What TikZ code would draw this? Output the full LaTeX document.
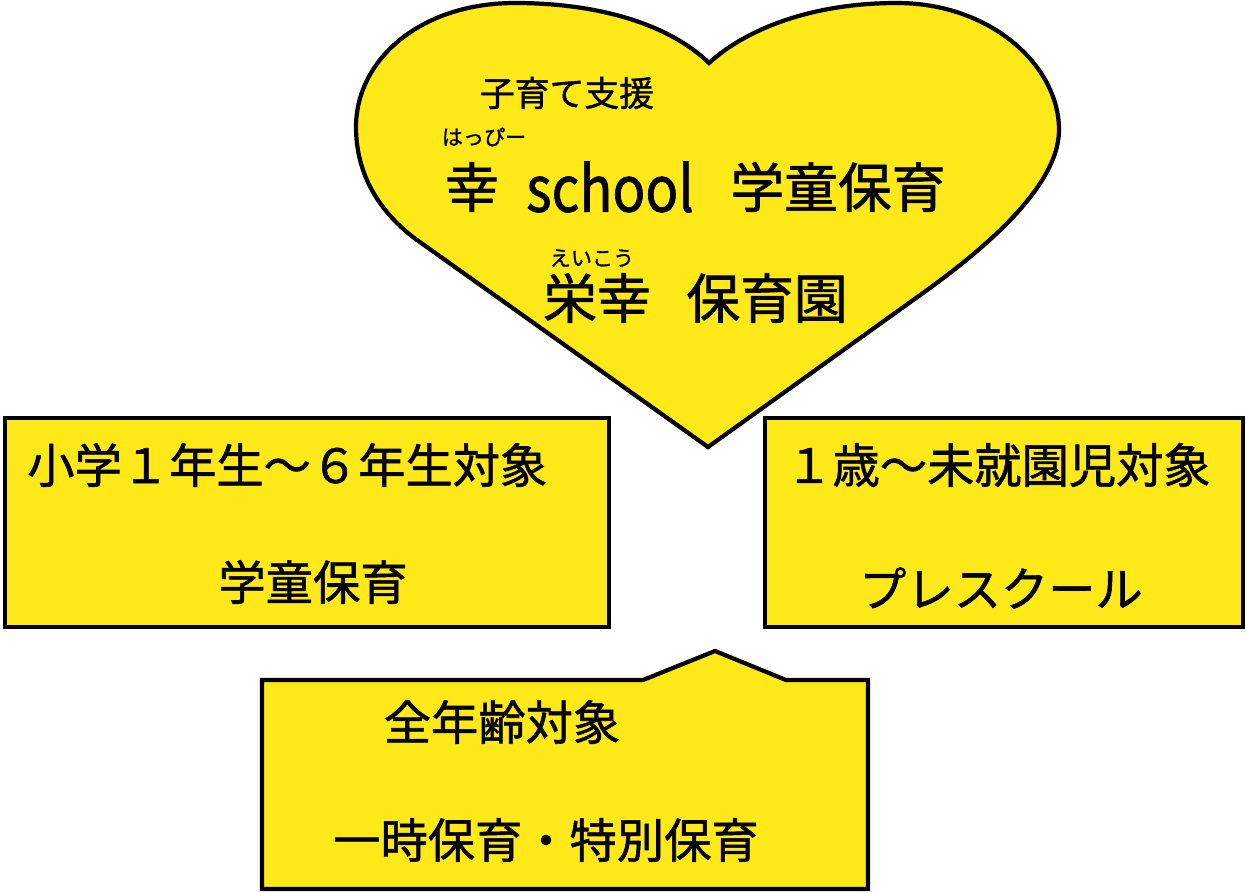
\documentclass[tikz,border=0pt]{standalone}
\usepackage{fontspec}
\setmainfont{Noto Sans CJK JP}[FakeBold=1.2]
\usepackage{graphicx}
\definecolor{heartyellow}{RGB}{255,233,25}
\newcommand{\fsz}[1]{\fontsize{#1}{#1}\selectfont}

\begin{document}
\begin{tikzpicture}[x=0.02cm, y=-0.02cm, every node/.style={inner sep=0pt},
  panel/.style={fill=heartyellow, draw=black, line width=2.8pt, line join=miter},
  big/.style={font=\fsz{30.6pt}}, mid/.style={font=\fsz{26.9pt}}, ruby/.style={font=\fsz{12pt}}]
  \useasboundingbox (0,0) rectangle (1246,892);
  \draw[panel, line width=2.4pt] (709,63) .. controls (670,25) and (600,3) .. (515,3)
    .. controls (420,3) and (356,60) .. (356,127)
    .. controls (356,175) and (380,213) .. (417,240) -- (708,447) -- (923,293)
    .. controls (973,257) and (1059,190) .. (1059,130)
    .. controls (1059,65) and (990,3) .. (897,3)
    .. controls (810,3) and (745,30) .. (709,63) -- cycle;
  \draw[panel] (5,418) rectangle (609,627);
  \draw[panel] (765,418) rectangle (1243,627);
  \draw[panel, line width=2.4pt] (262,680) -- (643,680) -- (715,651) -- (786,680) -- (868,680)
    -- (868,889) -- (262,889) -- cycle;
  \node[font=\fsz{19.8pt}] (shien) at (567,93) {子育て支援};
  \node[ruby] (happy) at (484,137) {はっぴー};
  \node[big] (kou) at (472,187) {幸};
  \node[font=\fsz{36pt}] (school) at (610,187) {\scalebox{0.86}[1]{school}};
  \node[big] (gakudou) at (838,187) {学童保育};
  \node[ruby] (eikouruby) at (592,258) {えいこう};
  \node[big] (eikou) at (597,298) {栄幸};
  \node[big] (hoikuen) at (767,298) {保育園};
  \node[mid, anchor=west] (shougaku) at (27,465) {小学１年生～６年生対象};
  \node[mid] (gakudoubox) at (313,582) {学童保育};
  \node[mid, anchor=west] (mishuuen) at (785,465) {１歳～未就園児対象};
  \node[mid] (preschool) at (1001,588) {プレスクール};
  \node[mid] (zennenrei) at (502,722) {全年齢対象};
  \node[mid] (ichiji) at (546,840) {一時保育・特別保育};
\end{tikzpicture}
\end{document}
